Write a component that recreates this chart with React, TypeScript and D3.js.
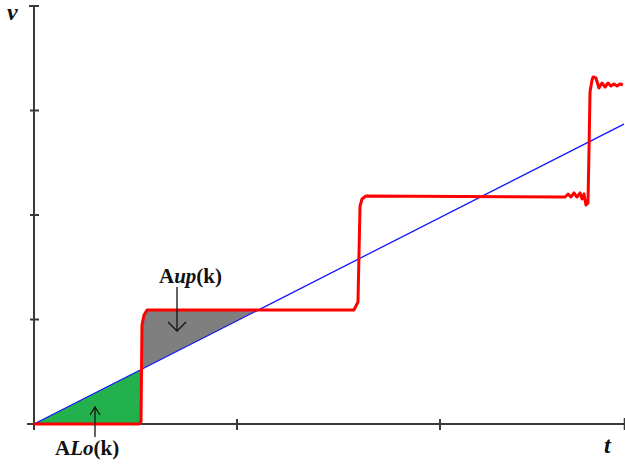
import * as d3 from 'd3';

// red response curve (t in x-tick units, v in y-tick units)
const redT = [0, 0.517, 0.527, 0.532, 0.542, 0.557, 1.576, 1.596, 1.606, 1.616, 1.635, 2.616, 2.631, 2.645, 2.66, 2.675, 2.69, 2.7, 2.709, 2.719, 2.729, 2.734, 2.739, 2.749, 2.754, 2.768, 2.783, 2.798, 2.813, 2.828, 2.842, 2.857, 2.872, 2.887, 2.901];
const redV = [0, 0, 0.019, 0.947, 1.043, 1.091, 1.091, 1.167, 2.086, 2.153, 2.182, 2.172, 2.201, 2.172, 2.211, 2.172, 2.211, 2.153, 2.201, 2.096, 2.115, 2.622, 3.177, 3.292, 3.321, 3.311, 3.215, 3.263, 3.225, 3.263, 3.234, 3.254, 3.234, 3.254, 3.244];

// blue reference ramp
const blueT = [0, 2.906];
const blueV = [0, 2.87];

const xTicks = [1, 2];
const yTicks = [1, 2, 3];
const xMax = 2.91;
const yMax = 4;

export default function App() {
    const width = 625;
    const height = 464;

    const x = d3.scaleLinear().domain([0, 3]).range([34, 643]);
    const y = d3.scaleLinear().domain([0, yMax]).range([424, 6]);

    const red = redT.map((t, i) => [t, redV[i]] as [number, number]);
    const blue = blueT.map((t, i) => [t, blueV[i]] as [number, number]);
    const blueAt = d3.scaleLinear().domain(blueT).range(blueV);

    const line = d3.line<[number, number]>()
        .x(d => x(d[0]))
        .y(d => y(d[1]));

    // green: under the ramp, above the zero output, up to the first step
    const stepT = redT[2];
    const greenPts: [number, number][] = [[0, 0], [stepT, blueAt(stepT)], [stepT, 0]];

    // gray: above the ramp, under the first level, until the ramp catches up
    const level = redV[5];
    const crossT = blueAt.invert(level);
    const grayPts: [number, number][] = [
        ...red.slice(3, 6),
        [crossT, level],
        [redT[3], blueAt(redT[3])],
    ];

    const poly = d3.line<[number, number]>()
        .x(d => x(d[0]))
        .y(d => y(d[1]))
        .curve(d3.curveLinearClosed);

    const axisColor = '#3a3a3a';
    const serif = '"Liberation Serif", "Times New Roman", serif';

    return (
        <svg width={width} height={height} style={{ position: 'absolute', left: 0, top: 0, background: '#fff' }}>
            <path d={poly(greenPts) || ''} fill="#22b14c" />
            <path d={poly(grayPts) || ''} fill="#7f7f7f" />

            {/* axes */}
            <line x1={x(0)} x2={x(0)} y1={y(yMax)} y2={y(0) + 6} stroke={axisColor} strokeWidth={2} />
            <line x1={x(0) - 5} x2={x(0) + 5} y1={y(yMax)} y2={y(yMax)} stroke={axisColor} strokeWidth={2} />
            {yTicks.map(v => (
                <line key={v} x1={x(0) - 4} x2={x(0) + 5} y1={y(v)} y2={y(v)} stroke={axisColor} strokeWidth={2} />
            ))}
            <line x1={x(0) - 7} x2={x(xMax)} y1={y(0)} y2={y(0)} stroke={axisColor} strokeWidth={2} />
            <line x1={x(xMax)} x2={x(xMax)} y1={y(0) - 6} y2={y(0) + 6} stroke={axisColor} strokeWidth={2} />
            {xTicks.map(t => (
                <line key={t} x1={x(t)} x2={x(t)} y1={y(0) - 5} y2={y(0) + 6} stroke={axisColor} strokeWidth={2} />
            ))}

            <path d={line(blue) || ''} fill="none" stroke="#1414ff" strokeWidth={1.3} />
            <path d={line(red) || ''} fill="none" stroke="#ff0000" strokeWidth={3} strokeLinejoin="round" />

            {/* arrows */}
            <g stroke="#111" strokeWidth={1.3} fill="none">
                <line x1={177} x2={177} y1={287} y2={331} />
                <polyline points="168,322 177,331 186,322" />
                <line x1={95} x2={95} y1={407} y2={437} />
                <polyline points="90,415 95,407 100,415" />
            </g>

            <g fontFamily={serif} fontWeight="bold" fill="#111">
                <text x={7} y={20} fontSize={24} fontStyle="italic">v</text>
                <text x={604} y={453} fontSize={24} fontStyle="italic">t</text>
                <text x={159} y={283} fontSize={21}>
                    A<tspan fontStyle="italic">up</tspan>(k)
                </text>
                <text x={55} y={455} fontSize={21}>
                    A<tspan fontStyle="italic">Lo</tspan>(k)
                </text>
            </g>
        </svg>
    );
}
